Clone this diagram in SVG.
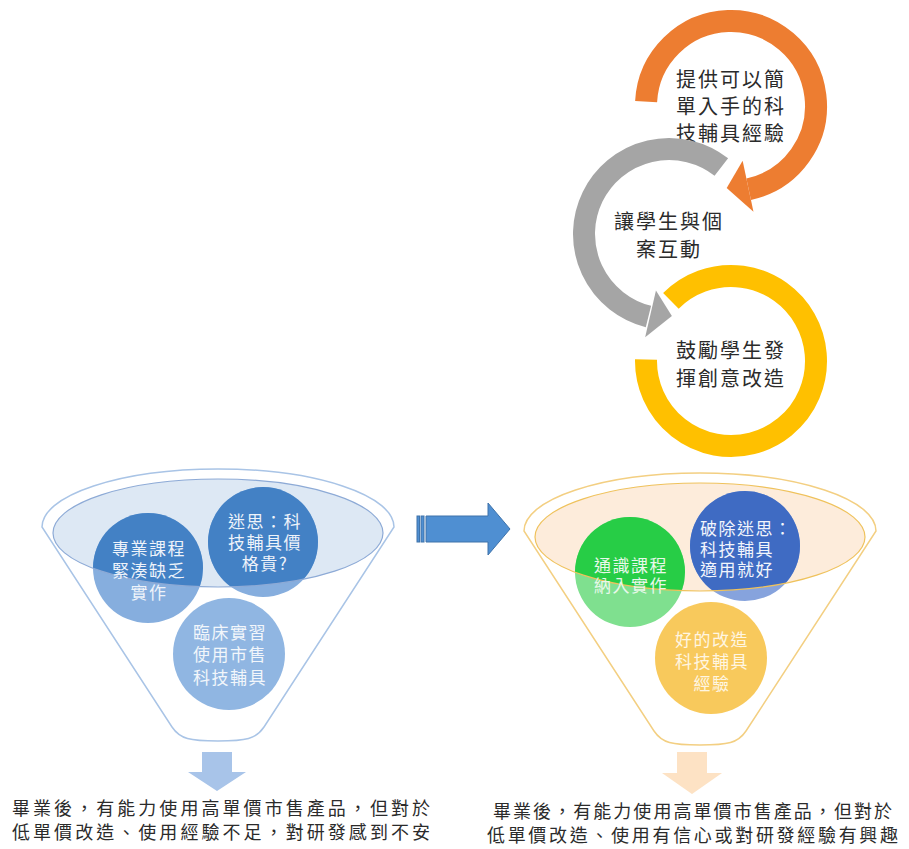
<svg xmlns="http://www.w3.org/2000/svg" width="909" height="849" viewBox="0 0 909 849">
<defs>
<style>
.t{font-family:"Noto Sans CJK TC","Noto Sans CJK SC",sans-serif;}
.ring{font-size:20px;fill:#2b2b2b;letter-spacing:2px;text-anchor:middle;dominant-baseline:central}
.ct{font-size:17px;letter-spacing:1.5px;text-anchor:middle;dominant-baseline:central}
.cs{font-size:17px;letter-spacing:1.5px;dominant-baseline:central}
.bt{font-size:18px;fill:#2b2b2b;dominant-baseline:central}
.arc{fill:none;stroke-width:22}
</style>
<clipPath id="clipE"><ellipse cx="218" cy="533" rx="165" ry="54"/></clipPath>
</defs>

<!-- cycle -->
<g id="cycle-orange">
<path class="arc" stroke="#ed7d31" d="M646.12,101.55 A85,85 0 1 1 748.67,189.14"/>
<polygon fill="#ed7d31" points="742.64,160.78 753.45,211.64 726.71,187.89"/>
<text class="t ring" x="731"><tspan x="731" y="78">提供可以簡</tspan><tspan x="731" y="105">單入手的科</tspan><tspan x="731" y="132">技輔具經驗</tspan></text>
</g>
<g id="cycle-gray">
<path class="arc" stroke="#a5a5a5" d="M721.33,167.02 A85,85 0 1 0 648.44,316.48"/>
<polygon fill="#a5a5a5" points="655.95,290.51 645.15,337.28 671.86,315.95"/>
<text class="t ring"><tspan x="669" y="220">讓學生與個</tspan><tspan x="669" y="248">案互動</tspan></text>
</g>
<g id="cycle-yellow">
<path class="arc" stroke="#ffc000" d="M670.9,300.9 A85,85 0 1 1 646.01,359.52"/>
<text class="t ring"><tspan x="731" y="349">鼓勵學生發</tspan><tspan x="731" y="377">揮創意改造</tspan></text>
</g>

<!-- left funnel -->
<g id="funnel-left">
<path d="M42,527 A176,58 0 0 1 394,527 L264,727 C256,739 246,741 218,741 C190,741 180,739 172,727 Z" fill="#ffffff" stroke="#a9c4e6" stroke-width="1.5"/>
<ellipse cx="218" cy="533" rx="165" ry="54" fill="#dde8f4"/>
<g id="node-l1">
<circle cx="148" cy="568" r="55" fill="#86aede"/>
<circle cx="148" cy="568" r="55" fill="#4381c5" clip-path="url(#clipE)"/>
</g>
<g id="node-l2">
<circle cx="263" cy="542" r="55" fill="#86aede"/>
<circle cx="263" cy="542" r="55" fill="#4381c5" clip-path="url(#clipE)"/>
</g>
<g id="node-l3">
<circle cx="229" cy="654" r="56" fill="#90b6e2"/>
</g>
<ellipse cx="218" cy="533" rx="165" ry="54" fill="none" stroke="#8daad6" stroke-width="1.2"/>
<text class="t ct" fill="#eef3fa"><tspan x="149" y="547">專業課程</tspan><tspan x="149" y="569">緊湊缺乏</tspan><tspan x="149" y="591">實作</tspan></text>
<text class="t ct" fill="#eef3fa"><tspan x="265" y="520">迷思：科</tspan><tspan x="265" y="541">技輔具價</tspan><tspan x="265" y="562">格貴?</tspan></text>
<text class="t ct" fill="#f2f6fb"><tspan x="230" y="631">臨床實習</tspan><tspan x="230" y="653">使用市售</tspan><tspan x="230" y="676">科技輔具</tspan></text>
</g>

<!-- right funnel -->
<g id="funnel-right" transform="translate(482,4)">
<path d="M42,527 A176,58 0 0 1 394,527 L264,727 C256,739 246,741 218,741 C190,741 180,739 172,727 Z" fill="#ffffff" stroke="#f3cf82" stroke-width="1.5"/>
<ellipse cx="218" cy="533" rx="165" ry="54" fill="#fdecdb"/>
<g id="node-r1">
<circle cx="148" cy="568" r="55" fill="#7fe08f"/>
<circle cx="148" cy="568" r="55" fill="#27cd46" clip-path="url(#clipE)"/>
</g>
<g id="node-r2">
<circle cx="263" cy="542" r="55" fill="#86a3dd"/>
<circle cx="263" cy="542" r="55" fill="#3f6bc3" clip-path="url(#clipE)"/>
</g>
<g id="node-r3">
<circle cx="229" cy="654" r="56" fill="#f8c95c"/>
</g>
<ellipse cx="218" cy="533" rx="165" ry="54" fill="none" stroke="#efc25c" stroke-width="1.2"/>
<text class="t ct" fill="#e8f8ea"><tspan x="149" y="560">通識課程</tspan><tspan x="149" y="580">納入實作</tspan></text>
<text class="t cs" fill="#f2f5fc"><tspan x="218" y="523">破除迷思：</tspan><tspan x="218" y="544">科技輔具</tspan><tspan x="218" y="564">適用就好</tspan></text>
<text class="t ct" fill="#fff6e2"><tspan x="230" y="634">好的改造</tspan><tspan x="230" y="656">科技輔具</tspan><tspan x="230" y="678">經驗</tspan></text>
</g>

<!-- connectors -->
<g id="connectors">
<g id="arrow-mid" fill="#4f8fd2" stroke="#3f73aa" stroke-width="1">
<rect x="417" y="516" width="2.5" height="26"/>
<rect x="421" y="516" width="3" height="26"/>
<path d="M426,516 H488 V503 L510,529 L488,555 V542 H426 Z"/>
</g>
<path id="arrow-down-left" fill="#a8c4e9" d="M202,752 H232 V772 H246 L217,791 L188,772 H202 Z"/>
<path id="arrow-down-right" fill="#fde2c4" d="M677,752 H707 V773 H722 L692,794 L662,773 H677 Z"/>
</g>

<!-- outcome texts -->
<g id="outcome-left">
<text class="t bt" x="12" y="807" textLength="418">畢業後，有能力使用高單價市售產品，但對於</text>
<text class="t bt" x="12" y="831" textLength="418">低單價改造、使用經驗不足，對研發感到不安</text>
</g>
<g id="outcome-right">
<text class="t bt" x="493" y="810" textLength="399">畢業後，有能力使用高單價市售產品，但對於</text>
<text class="t bt" x="487" y="834" textLength="411">低單價改造、使用有信心或對研發經驗有興趣</text>
</g>
</svg>
